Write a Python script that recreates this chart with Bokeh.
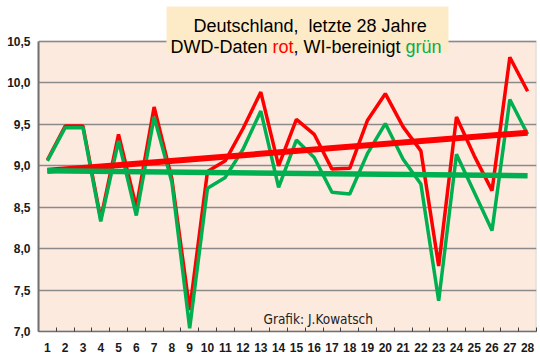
from bokeh.plotting import figure
from bokeh.models import (FixedTicker, CustomJSTickFormatter, Label, BoxAnnotation, Range1d)
from bokeh.embed import file_html
from bokeh.resources import INLINE

years = list(range(1, 29))
dwd = [9.07, 9.48, 9.48, 8.36, 9.38, 8.50, 9.71, 8.84, 7.26, 8.93, 9.06, 9.45, 9.89, 9.00,
       9.56, 9.38, 8.96, 8.97, 9.55, 9.87, 9.47, 9.18, 7.79, 9.59, 9.12, 8.70, 10.31, 9.90]
wi = [9.06, 9.46, 9.46, 8.33, 9.30, 8.40, 9.59, 8.80, 7.04, 8.73, 8.86, 9.20, 9.66, 8.74,
      9.31, 9.10, 8.68, 8.66, 9.15, 9.51, 9.08, 8.78, 7.37, 9.14, 8.68, 8.22, 9.80, 9.38]
trend_x = [1, 28]
dwd_trend = [8.94, 9.40]
wi_trend = [8.94, 8.88]
y_ticks = [7.0, 7.5, 8.0, 8.5, 9.0, 9.5, 10.0, 10.5]

RED = "#FF0000"
GREEN = "#00B050"

y_min, y_max = y_ticks[0], y_ticks[-1]
# frame reaches to the top of the canvas so the title box fits inside it
y_top = y_max + 41 / (290 / (y_max - y_min))

p = figure(width=540, height=359, output_backend="svg", toolbar_location=None,
           x_range=Range1d(0.5, 28.5), y_range=Range1d(y_min, y_top),
           min_border_left=38, min_border_right=4, min_border_top=0, min_border_bottom=28)
p.background_fill_color = "white"
p.border_fill_color = "white"
p.outline_line_color = None

# plot-area background (7,0 .. 10,5)
bg = BoxAnnotation(left=0.5, right=28.5, bottom=y_min, top=y_max,
                   fill_color="#FCEADF", fill_alpha=1.0,
                   line_color="#707070", line_width=1.5, level="image")
p.add_layout(bg)

# axes
p.xaxis.ticker = FixedTicker(ticks=years, minor_ticks=[x + 0.5 for x in range(0, 29)])
p.xaxis.major_tick_in = 0
p.xaxis.major_tick_out = 0
p.xaxis.minor_tick_in = 4
p.xaxis.minor_tick_out = 0
p.xaxis.minor_tick_line_color = "#404040"
p.xaxis.axis_line_color = "#707070"
p.xaxis.axis_line_width = 1.5
p.xaxis.major_label_standoff = 11
p.xaxis.major_label_text_font = "Liberation Sans"
p.xaxis.major_label_text_font_style = "bold"
p.xaxis.major_label_text_font_size = "12px"
p.xaxis.major_label_text_color = "#1a1a1a"

p.yaxis.ticker = FixedTicker(ticks=y_ticks)
p.yaxis.bounds = (y_min, y_max)
p.yaxis.formatter = CustomJSTickFormatter(code="return tick.toFixed(1).replace('.', ',');")
p.yaxis.major_tick_in = 0
p.yaxis.major_tick_out = 0
p.yaxis.minor_tick_line_color = None
p.yaxis.axis_line_color = "#707070"
p.yaxis.axis_line_width = 2
p.yaxis.major_label_standoff = 8
p.yaxis.major_label_text_font = "Liberation Sans"
p.yaxis.major_label_text_font_style = "bold"
p.yaxis.major_label_text_font_size = "12px"
p.yaxis.major_label_text_color = "#1a1a1a"

p.ygrid.grid_line_color = "#8a8a8a"
p.ygrid.grid_line_width = 1.5
p.xgrid.grid_line_color = None

# data lines
p.line(years, dwd, line_color=RED, line_width=3.5)
p.line(years, wi, line_color=GREEN, line_width=3.5)
p.line(trend_x, dwd_trend, line_color=RED, line_width=6)
p.line(trend_x, wi_trend, line_color=GREEN, line_width=5.5)

# title box (screen units relative to frame, y upward from frame bottom)
box = BoxAnnotation(left=128, right=410, top=325, bottom=279,
                    left_units="screen", right_units="screen",
                    top_units="screen", bottom_units="screen",
                    fill_color="#FDEBC8", fill_alpha=1.0, line_color=None)
p.add_layout(box)

def lab(x, y, text, color="#000000", size="18px", font="Liberation Sans"):
    p.add_layout(Label(x=x, y=y, x_units="screen", y_units="screen", text=text,
                       text_color=color, text_font=font, text_font_size=size,
                       text_baseline="alphabetic", text_align="left"))

lab(155, 306, "Deutschland,\u00a0 letzte 28 Jahre")
lab(132, 285, "DWD-Daten ")
lab(234, 285, "rot", RED)
lab(255, 285, ", WI-bereinigt ")
lab(367, 285, "grün", GREEN)
lab(225, 13, "Grafik: J.Kowatsch", "#222222", "13.5px",
    "'Liberation Sans Narrow', 'Arial Narrow', 'DejaVu Sans Condensed', 'Liberation Sans', sans-serif")

open("out.html", "w").write(file_html(p, INLINE))
